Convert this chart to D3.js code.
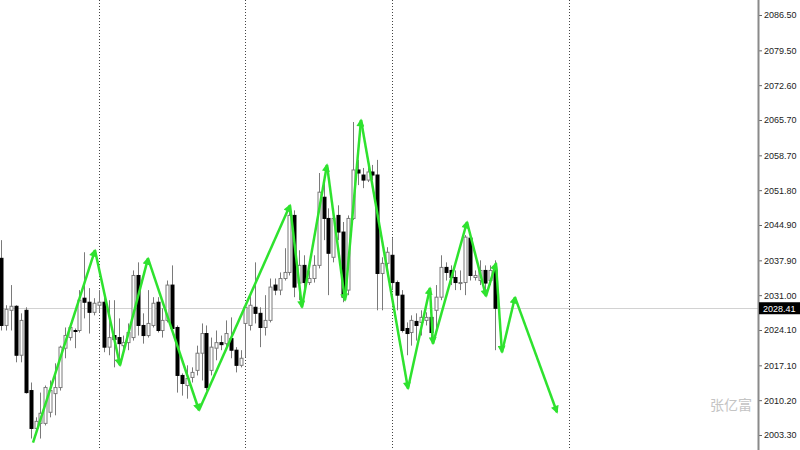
<!DOCTYPE html>
<html><head><meta charset="utf-8">
<script src="https://cdn.jsdelivr.net/npm/d3@7"></script>
<style>html,body{margin:0;padding:0;background:#fff;overflow:hidden}</style>
</head><body>
<svg id="chart" width="800" height="450"></svg>
<script>
// ---- data ----
const opens=[2038.3,2025.0,2028.0,2028.8,2019.1,2028.0,2012.1,2004.6,2005.6,2005.6,
2007.8,2011.5,2012.7,2020.5,2022.6,2024.0,2024.0,2030.4,2029.6,2027.6,
2029.0,2029.6,2020.7,2023.0,2022.6,2021.0,2021.6,2022.6,2034.9,2025.0,
2023.0,2025.0,2029.6,2024.0,2026.0,2033.0,2024.6,2015.1,2013.1,2014.7,
2016.1,2019.5,2023.4,2016.1,2020.5,2021.6,2021.4,2022.4,2020.1,2017.1,
2025.4,2025.0,2028.6,2027.4,2024.6,2026.0,2033.0,2032.0,2034.3,2035.5,
2046.8,2033.4,2036.9,2033.5,2034.3,2036.9,2050.4,2046.2,2038.5,2046.8,
2043.5,2032.0,2046.2,2055.8,2054.8,2053.8,2055.4,2054.8,2035.3,2037.3,
2038.9,2033.5,2031.0,2024.4,2023.6,2025.8,2025.6,2026.0,2026.6,2028.0,
2030.6,2036.5,2035.9,2034.5,2033.4,2033.5,2042.3,2034.5,2033.9,2035.9,
2033.9,2035.9];
const highs=[2041.9,2029.0,2033.0,2029.0,2027.4,2028.6,2013.7,2006.8,2011.7,2013.1,
2014.1,2017.5,2021.0,2024.6,2025.4,2024.4,2032.0,2039.5,2032.4,2030.4,
2032.0,2032.0,2030.0,2030.0,2026.4,2023.0,2025.4,2035.9,2037.5,2027.4,
2032.0,2030.6,2030.6,2028.4,2033.9,2036.9,2025.0,2015.5,2017.1,2016.7,
2021.0,2025.4,2025.0,2022.6,2024.0,2023.0,2026.0,2026.6,2020.7,2020.1,
2029.4,2031.6,2037.5,2028.6,2031.0,2034.3,2034.3,2035.5,2040.3,2048.2,
2047.8,2039.9,2038.9,2035.9,2038.9,2055.2,2054.8,2048.2,2047.2,2048.8,
2045.5,2046.8,2065.3,2057.8,2056.2,2057.8,2056.8,2057.8,2038.5,2040.5,
2042.3,2033.9,2032.0,2025.6,2027.0,2027.4,2028.0,2027.6,2028.0,2033.0,
2038.9,2037.5,2036.9,2035.9,2035.9,2042.9,2042.9,2035.9,2037.9,2036.9,
2036.9,2037.9];
const lows=[2024.0,2024.0,2024.0,2017.7,2017.7,2011.5,2002.6,2003.6,2002.6,2005.2,
2006.8,2007.2,2012.1,2018.5,2022.0,2020.5,2023.6,2026.4,2023.4,2027.0,
2027.6,2019.7,2019.1,2016.7,2018.1,2019.7,2020.1,2022.0,2023.0,2021.4,
2022.6,2024.6,2023.6,2022.6,2025.6,2024.0,2011.7,2011.1,2010.5,2013.7,
2015.1,2014.1,2012.1,2015.1,2018.1,2020.1,2020.7,2018.5,2015.7,2016.7,
2018.7,2024.0,2025.4,2020.7,2023.0,2025.6,2031.0,2031.0,2033.9,2034.9,
2030.6,2030.0,2031.6,2033.0,2033.5,2036.3,2041.9,2031.0,2037.5,2041.9,
2029.6,2031.0,2045.9,2052.8,2052.2,2053.4,2053.8,2028.0,2028.0,2036.3,
2032.0,2028.0,2023.6,2019.1,2021.0,2022.0,2023.0,2025.0,2022.0,2024.0,
2030.0,2033.9,2033.0,2032.0,2032.0,2031.0,2033.9,2033.9,2033.0,2032.0,
2033.0,2020.1];
const closes=[2025.0,2028.2,2028.8,2019.1,2026.0,2011.7,2004.6,2006.0,2007.6,2012.7,
2012.1,2012.7,2020.7,2023.0,2024.6,2023.8,2030.0,2029.6,2027.6,2029.4,
2029.6,2020.7,2022.6,2022.2,2021.4,2021.6,2023.6,2034.9,2025.0,2023.0,
2025.4,2029.4,2024.0,2026.0,2033.0,2024.4,2015.1,2013.5,2014.5,2015.7,
2019.5,2023.4,2012.7,2020.7,2021.6,2021.2,2023.4,2020.1,2017.1,2018.5,
2028.6,2029.0,2027.4,2024.6,2026.0,2032.6,2032.0,2034.3,2035.5,2046.8,
2032.6,2036.9,2033.5,2034.3,2036.9,2051.4,2046.2,2039.3,2046.2,2043.5,
2030.6,2046.2,2055.8,2055.2,2053.8,2055.4,2054.8,2035.3,2037.3,2039.5,
2033.5,2031.0,2024.0,2023.4,2026.0,2025.0,2026.6,2026.6,2023.6,2030.6,
2036.5,2035.5,2034.5,2033.5,2033.5,2042.5,2034.9,2034.9,2035.9,2033.4,
2035.9,2028.4];
// zigzag arrow path: bar index (fractional) and price
const zigIdx=[6.49,19.18,24.30,30.04,40.48,59.12,61.57,66.69,70.38,73.66,83.28,87.79,88.40,95.37,99.26,101.3,102.53,105.19,113.8];
const zigPrice=[2001.8,2039.9,2017.1,2038.3,2008.2,2048.8,2028.6,2056.8,2030.0,2065.7,2012.5,2032.4,2021.4,2045.5,2030.8,2037.3,2019.7,2030.6,2007.8];
const separatorIdx=[20,50,80,116.3];
const tickValues=[2086.50,2079.50,2072.60,2065.70,2058.70,2051.80,2044.90,2037.90,2031.00,2024.10,2017.10,2010.20,2003.30];
const currentPrice=2028.41;
const watermark="张亿富";

// ---- chart ----
const svg=d3.select("#chart");
const axisX=758;
const y=d3.scaleLinear().domain([2003.3,2086.5]).range([435,15]);
const x=d3.scaleLinear().domain([0,101]).range([1.33,494.5]);
const bars=d3.range(opens.length).map(i=>({i,o:opens[i],h:highs[i],l:lows[i],c:closes[i]}));

// current price line
svg.append("line").attr("x1",0).attr("x2",axisX).attr("y1",Math.round(y(currentPrice))+0.5).attr("y2",Math.round(y(currentPrice))+0.5)
  .attr("stroke","#d2d2d2").attr("stroke-width",1);

// separators
svg.selectAll("line.sep").data(separatorIdx).enter().append("line").attr("class","sep")
  .attr("x1",d=>Math.round(x(d))+0.5).attr("x2",d=>Math.round(x(d))+0.5).attr("y1",0).attr("y2",450)
  .attr("stroke","#444").attr("stroke-width",1).attr("stroke-dasharray","1,2");

// watermark
svg.append("text").attr("x",731).attr("y",410).attr("text-anchor","middle")
  .attr("font-family","'Noto Sans CJK SC'").attr("font-size",14).attr("fill","#c4c4c4").text(watermark);

// candles
const g=svg.append("g");
g.selectAll("line.wick").data(bars).enter().append("line").attr("class","wick")
  .attr("x1",d=>Math.round(x(d.i))+0.5).attr("x2",d=>Math.round(x(d.i))+0.5)
  .attr("y1",d=>y(d.h)).attr("y2",d=>y(d.l)).attr("stroke","#7a7a7a").attr("stroke-width",1);
g.selectAll("rect.body").data(bars).enter().append("rect").attr("class","body")
  .attr("x",d=>Math.round(x(d.i))-1)
  .attr("width",3)
  .attr("y",d=>y(Math.max(d.o,d.c)))
  .attr("height",d=>Math.max(1,Math.abs(y(d.o)-y(d.c))))
  .attr("fill",d=>d.c>=d.o?"#ffffff":"#000000")
  .attr("stroke",d=>d.c>=d.o?"#7a7a7a":"#000000").attr("stroke-width",1);

// zigzag arrows
const defs=svg.append("defs");
defs.append("marker").attr("id","ah").attr("viewBox","0 0 10 10").attr("refX",8).attr("refY",5)
  .attr("markerWidth",9).attr("markerHeight",8).attr("markerUnits","userSpaceOnUse").attr("orient","auto")
  .append("path").attr("d","M0,0 L10,5 L0,10 z").attr("fill","#2ee22e");
const segs=d3.range(zigIdx.length-1).map(k=>({a:k,b:k+1}));
svg.append("g").selectAll("line").data(segs).enter().append("line")
  .attr("x1",d=>x(zigIdx[d.a])).attr("y1",d=>y(zigPrice[d.a]))
  .attr("x2",d=>x(zigIdx[d.b])).attr("y2",d=>y(zigPrice[d.b]))
  .attr("stroke","#2ee22e").attr("stroke-width",2.5).attr("marker-end","url(#ah)");

// axis
svg.append("rect").attr("x",axisX).attr("y",0).attr("width",800-axisX).attr("height",450).attr("fill","#fff");
const ax=svg.append("g").attr("transform",`translate(${axisX},0)`)
  .call(d3.axisRight(y).tickValues(tickValues).tickSize(4).tickPadding(2).tickFormat(d=>d.toFixed(2)));
ax.select(".domain").remove();
ax.selectAll(".tick line").attr("stroke","#666");
ax.selectAll(".tick text").attr("fill","#222").attr("font-family","'Liberation Sans',Arial,sans-serif").attr("font-size",9);
svg.append("line").attr("x1",axisX+0.5).attr("x2",axisX+0.5).attr("y1",0).attr("y2",450).attr("stroke","#8a8a8a").attr("stroke-width",2);

// current price label
const cy=y(currentPrice);
svg.append("rect").attr("x",axisX+1).attr("y",cy-6).attr("width",41).attr("height",12).attr("fill","#000");
svg.append("text").attr("x",axisX+5).attr("y",cy+3.5).attr("fill","#fff")
  .attr("font-family","'Liberation Sans',Arial,sans-serif").attr("font-size",9).text(currentPrice.toFixed(2));
</script>
</body></html>
